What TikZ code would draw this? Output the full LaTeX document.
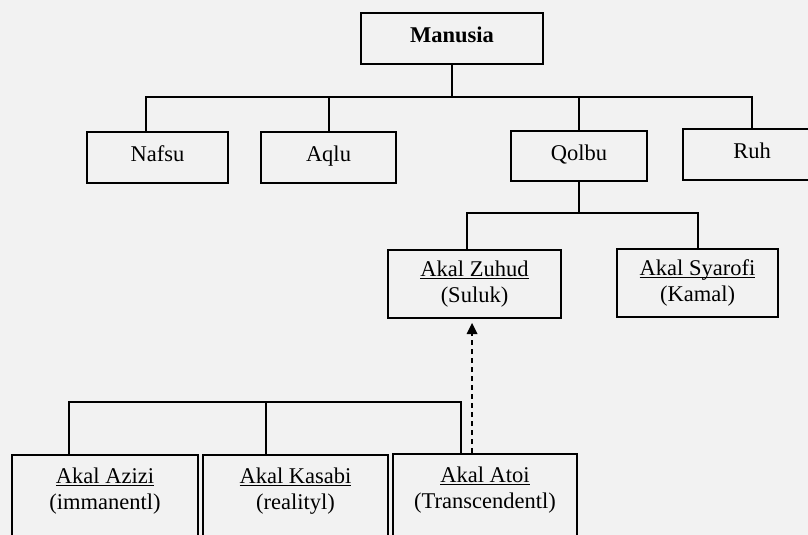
\documentclass[tikz,border=0pt]{standalone}
\usepackage{fontspec}
\setmainfont{Liberation Serif}
\usetikzlibrary{arrows.meta}
\newcommand\ulin[1]{\underline{\raisebox{0pt}[\height][0pt]{#1}}}
\tikzset{
  kotak/.style={draw, line width=2pt, align=center, inner sep=0pt,
    font=\fontsize{22.5}{26}\selectfont},
  satu/.style={text height=17pt, text depth=9pt},
  garis/.style={line width=2pt},
  panah/.style={garis, dash pattern=on 5pt off 4pt,
    -{Triangle[length=11pt,width=11pt,line width=0pt]}, shorten >=4pt},
}
\def\Kotak(#1) at (#2, #3) size (#4, #5) #6;{
    \node[kotak, minimum width=#4pt, minimum height=#5pt] (#1) at (#2, #3) {#6};
}
\def\KotakSatu(#1) at (#2, #3) size (#4, #5) #6;{
    \node[kotak, satu, minimum width=#4pt, minimum height=#5pt] (#1) at (#2, #3) {#6};
}
\def\KotakBawah(#1) at (#2, #3) width (#4) #5;{
    \node[kotak, anchor=north, inner ysep=13pt, minimum width=#4pt] (#1) at (#2, #3) {#5\rule[-60pt]{0pt}{0pt}};
}

\begin{document}
\begin{tikzpicture}[x=1pt, y=-1pt]
    \fill[black!5] (0,0) rectangle (808,535);
    \clip (0,0) rectangle (808,535);

    % baris atas
    \KotakSatu(manusia) at (452, 38.5) size (182, 51) {\textbf{Manusia}};
    \KotakSatu(nafsu) at (157.5, 157.5) size (141, 51) {Nafsu};
    \KotakSatu(aqlu) at (328.5, 157.5) size (135, 51) {Aqlu};
    \KotakSatu(qolbu) at (579, 156) size (136, 50) {Qolbu};
    \KotakSatu(ruh) at (752, 154.5) size (138, 51) {Ruh};

    % cabang qolbu
    \Kotak(zuhud) at (474.5, 284) size (173, 68) {\ulin{Akal Zuhud}\\(Suluk)};
    \Kotak(syarofi) at (697.5, 283) size (161, 68) {\ulin{Akal Syarofi}\\(Kamal)};

    % baris bawah
    \KotakBawah(azizi) at (105, 454) width (186) {\ulin{Akal Azizi}\\(immanentl)};
    \KotakBawah(kasabi) at (295.5, 454) width (185) {\ulin{Akal Kasabi}\\(realityl)};
    \KotakBawah(atoi) at (485, 453) width (184) {\ulin{Akal Atoi}\\(Transcendentl)};

    % garis penghubung
    \coordinate (bus1) at (146, 97);
    \coordinate (bus2) at (467, 213);
    \coordinate (bus3) at (69, 402);
    \coordinate (bus3m) at (266, 402);
    \coordinate (bus3r) at (461, 402);
    \coordinate (naik) at (472, 402);

    \draw[garis] (manusia) -- (manusia |- bus1);
    \draw[garis] (bus1 |- nafsu.north) -- (bus1) -- (ruh |- bus1) -- (ruh.north);
    \draw[garis] (aqlu) -- (aqlu |- bus1);
    \draw[garis] (qolbu) -- (qolbu |- bus1);
    \draw[garis] (qolbu) -- (qolbu |- bus2);
    \draw[garis] (bus2 |- zuhud.north) -- (bus2) -- (syarofi |- bus2) -- (syarofi.north);
    \draw[garis] (bus3 |- azizi.north) -- (bus3) -- (bus3r) -- (bus3r |- atoi.north);
    \draw[garis] (bus3m) -- (bus3m |- kasabi.north);
    \draw[panah] (naik |- atoi.north) -- (naik |- zuhud.south); % Atoi naik ke Zuhud
\end{tikzpicture}
\end{document}
